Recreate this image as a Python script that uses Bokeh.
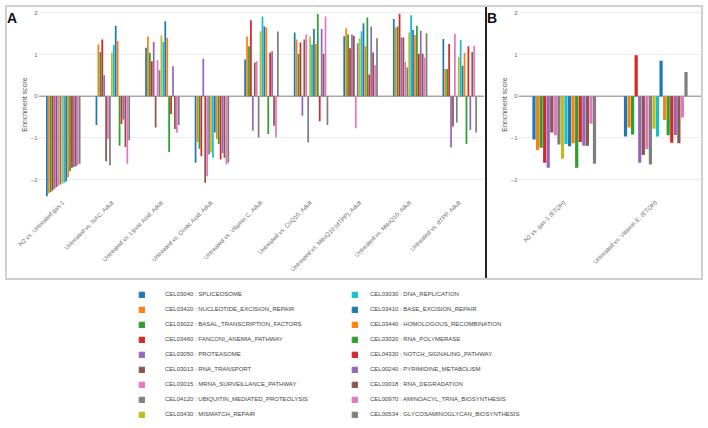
from math import pi
from bokeh.plotting import figure
from bokeh.models import (FactorRange, Range1d, FixedTicker, Span, Legend,
                          LegendItem, Div, ColumnDataSource, Row, Column)
from bokeh.transform import dodge
from bokeh.embed import file_html
from bokeh.resources import INLINE

# ---------------- data ----------------
groups_A = ["N2 vs. Untreated gas-1", "Untreated vs. NAC, Adult",
            "Untreated vs. Lipoic Acid, Adult", "Untreated vs. Orotic Acid, Adult",
            "Untreated vs. Vitamin C, Adult", "Untreated vs. CoQ10, Adult",
            "Untreated vs. MitoQ10 (dTPP), Adult", "Untreated vs. MitoQ10, Adult",
            "Untreated vs. dTPP, Adult"]
groups_B = ["N2 vs. gas-1 (ETOH)", "Untreated vs. Vitamin E, (ETOH)"]

pathways = ["CEL03040 : SPLICEOSOME", "CEL03420 : NUCLEOTIDE_EXCISION_REPAIR",
            "CEL03022 : BASAL_TRANSCRIPTION_FACTORS", "CEL03460 : FANCONI_ANEMIA_PATHWAY",
            "CEL03050 : PROTEASOME", "CEL03013 : RNA_TRANSPORT",
            "CEL03015 : MRNA_SURVEILLANCE_PATHWAY", "CEL04120 : UBIQUITIN_MEDIATED_PROTEOLYSIS",
            "CEL03430 : MISMATCH_REPAIR", "CEL03030 : DNA_REPLICATION",
            "CEL03410 : BASE_EXCISION_REPAIR", "CEL03440 : HOMOLOGOUS_RECOMBINATION",
            "CEL03020 : RNA_POLYMERASE", "CEL04330 : NOTCH_SIGNALING_PATHWAY",
            "CEL00240 : PYRIMIDINE_METABOLISM", "CEL03018 : RNA_DEGRADATION",
            "CEL00970 : AMINOACYL_TRNA_BIOSYNTHESIS", "CEL00534 : GLYCOSAMINOGLYCAN_BIOSYNTHESIS"]

colors = ["#1f77b4", "#ff7f0e", "#2ca02c", "#d62728", "#9467bd", "#8c564b",
          "#e377c2", "#7f7f7f", "#bcbd22", "#17becf", "#1f77b4", "#ff7f0e",
          "#2ca02c", "#d62728", "#9467bd", "#8c564b", "#e377c2", "#7f7f7f"]

# values: 9 panel-A comparisons followed by 2 panel-B comparisons
spliceosome      = [-2.40, -0.69, 1.16, -1.60, 0.88, 1.53, 1.44, 1.85, 1.37, -1.04, -0.97]
nucleotide_exc   = [-2.33, 1.24, 1.43, -1.10, 1.43, 1.36, 1.63, 1.65, 0.65, -1.29, -0.75]
basal_transcr    = [-2.30, 1.06, 1.04, -1.26, 1.20, 1.02, 1.48, 1.67, 0.65, -1.24, -0.92]
fanconi          = [-2.26, 1.36, 0.84, -1.44, 1.82, 1.29, 1.15, 1.98, 1.25, -1.60, 0.98]
proteasome       = [-2.22, 0.50, 1.30, 0.90, -0.83, -0.47, 1.48, 1.41, -1.23, -1.72, -1.60]
rna_transport    = [-2.18, -1.56, -0.75, -2.08, 0.81, 1.36, 1.45, 1.41, -0.73, -0.87, -1.41]
mrna_surveil     = [-2.15, -1.03, 0.86, -1.92, 0.84, 1.48, -0.77, 0.82, 1.49, -0.94, -1.27]
ubiquitin        = [-2.12, -1.66, 0.62, -1.40, -0.99, -1.11, 1.27, 0.69, -0.63, -1.16, -1.64]
mismatch         = [-2.10, 1.05, 1.46, -1.35, 1.55, 1.44, 1.39, 1.53, 0.94, -1.50, -0.78]
dna_replication  = [-2.08, 1.23, 1.30, -1.48, 1.91, 1.24, 1.56, 1.94, 1.35, -1.15, -0.97]
base_excision    = [-2.05, 1.69, 1.80, -0.87, 1.67, 1.61, 1.75, 1.59, 0.73, -1.20, 0.85]
homologous_rec   = [-1.95, 1.32, 1.40, -1.03, 1.65, 1.25, 1.20, 1.47, 1.04, -1.13, -0.57]
rna_polymerase   = [-1.80, -1.19, -1.34, -1.15, -0.91, 1.97, 1.89, 1.69, -1.15, -1.72, -0.94]
notch            = [-1.72, -0.67, -0.43, -1.52, 1.04, -0.60, 0.52, 1.02, 1.20, -1.10, -1.12]
pyrimidine       = [-1.70, -0.56, 0.72, -1.37, 1.08, 1.61, 1.67, 1.57, -0.81, -1.19, -0.93]
rna_degradation  = [-1.68, -1.22, -0.79, -1.48, -0.71, 1.02, 1.05, 1.02, 1.06, -1.19, -1.13]
aminoacyl_trna   = [-1.65, -1.62, -0.88, -1.64, -0.99, 1.91, 0.74, 0.92, 1.21, -0.66, -0.51]
glycosaminogly   = [-1.62, -1.06, -0.69, -1.60, 1.55, -0.69, 1.39, 1.51, -0.87, -1.62, 0.58]

series = [spliceosome, nucleotide_exc, basal_transcr, fanconi, proteasome, rna_transport,
          mrna_surveil, ubiquitin, mismatch, dna_replication, base_excision, homologous_rec,
          rna_polymerase, notch, pyrimidine, rna_degradation, aminoacyl_trna, glycosaminogly]

y_ticks = [-2, -1, 0, 1, 2]

FONT = "Liberation Sans"
N = len(series)
SPAN = 0.7
SLOT = SPAN / N
BOX = "#cfcfcf"
PANEL_H = 271
LETTER_W = 10


def make_panel(groups, lo, hi, width, mbl, mbr, mbt, mbb, tick_standoff, label_standoff):
    p = figure(x_range=FactorRange(*groups, range_padding=0), y_range=Range1d(-2.48, 2.08),
               width=width, height=PANEL_H, output_backend="svg", toolbar_location=None,
               min_border_left=mbl, min_border_right=mbr, min_border_top=mbt,
               min_border_bottom=mbb, border_fill_color="white", background_fill_color="white")
    p.outline_line_color = None
    data = {"g": groups}
    for i, s in enumerate(series):
        data[f"s{i}"] = s[lo:hi]
    src = ColumnDataSource(data)
    p.ygrid.ticker = FixedTicker(ticks=[-2, -1, 1, 2])
    p.ygrid.grid_line_color = "#ececec"
    p.xgrid.grid_line_color = None
    p.add_layout(Span(location=0, dimension="width", line_color="#a8a8a8",
                      line_width=1.5, level="underlay"))
    for i in range(N):
        off = -SPAN / 2 + SLOT * (i + 0.5)
        p.vbar(x=dodge("g", off, range=p.x_range), top=f"s{i}", bottom=0,
               width=SLOT * 0.9, source=src, fill_color=colors[i], line_color=None)

    for ax in (p.xaxis[0], p.yaxis[0]):
        ax.axis_line_color = None
        ax.major_tick_line_color = None
        ax.minor_tick_line_color = None
        ax.major_tick_out = 0
        ax.major_tick_in = 0
        ax.minor_tick_out = 0
        ax.minor_tick_in = 0

    p.xaxis.major_label_orientation = pi / 4
    p.xaxis.major_label_text_font = FONT
    p.xaxis.major_label_text_font_size = "6px"
    p.xaxis.major_label_text_color = "#707070"
    p.xaxis.major_label_standoff = 2

    p.yaxis.ticker = FixedTicker(ticks=y_ticks)
    p.yaxis.major_label_text_font = FONT
    p.yaxis.major_label_text_font_size = "6px"
    p.yaxis.major_label_text_color = "#666666"
    p.yaxis.major_label_standoff = tick_standoff
    p.yaxis.axis_label = "Enrichment score"
    p.yaxis.axis_label_text_font = FONT
    p.yaxis.axis_label_text_font_size = "7px"
    p.yaxis.axis_label_text_font_style = "normal"
    p.yaxis.axis_label_text_color = "#555555"
    p.yaxis.axis_label_standoff = label_standoff
    return p


pA = make_panel(groups_A, 0, 9, 478 - LETTER_W, 16, 1, 2, 79, 1, 0)
pB = make_panel(groups_B, 9, 11, 214 - LETTER_W, 18, 0, 2, 73, 1, 0)


def bar_div(w, h, color):
    return Div(text="", width=w, height=h, margin=(0, 0, 0, 0),
               styles={"background-color": color})


def letter_col(letter):
    lab = Div(text=letter, width=LETTER_W, height=24, margin=(0, 0, 0, 0),
              styles={"font-family": FONT, "font-size": "14px", "font-weight": "bold",
                      "color": "#111111", "line-height": "14px", "padding-top": "4px",
                      "padding-left": "0px", "background-color": "white",
                      "overflow": "visible"})
    return Column(children=[lab, bar_div(LETTER_W, PANEL_H - 24, "white")],
                  spacing=0, margin=(0, 0, 0, 0))


top_row = Row(children=[bar_div(2, PANEL_H, BOX), letter_col("A"), pA,
                        bar_div(2, PANEL_H, "#222222"), letter_col("B"), pB,
                        bar_div(2, PANEL_H, BOX)], spacing=0, margin=(0, 0, 0, 0))

# ---------------- legend ----------------
pL = figure(width=698, height=148, output_backend="svg", toolbar_location=None,
            x_range=Range1d(0, 1), y_range=Range1d(0, 1),
            x_axis_location=None, y_axis_location=None,
            min_border=0, min_border_left=0, min_border_right=0,
            min_border_top=0, min_border_bottom=0)
pL.outline_line_color = None
pL.xgrid.grid_line_color = None
pL.ygrid.grid_line_color = None

items1, items2 = [], []
for i in range(N):
    # legend swatch renderer, kept outside the visible range
    r = pL.quad(left=[5], right=[6], top=[5], bottom=[4], fill_color=colors[i],
                line_color=colors[i])
    (items1 if i < 9 else items2).append(LegendItem(label=pathways[i], renderers=[r]))


def make_legend(items, x, standoff):
    return Legend(items=items, location=(x, 10), orientation="vertical",
                  glyph_width=7, glyph_height=7, label_height=8, spacing=7,
                  label_standoff=standoff, padding=0, margin=0,
                  label_text_font=FONT, label_text_font_size="6px",
                  label_text_color="#444444", border_line_color=None,
                  background_fill_alpha=0)


pL.add_layout(make_legend(items1, 133, 20))
pL.add_layout(make_legend(items2, 346, 12))

page = Column(children=[bar_div(698, 2, BOX), top_row, bar_div(698, 2, BOX), pL],
              spacing=0, margin=(5, 0, 0, 5))

open("out.html", "w").write(file_html(page, INLINE))
